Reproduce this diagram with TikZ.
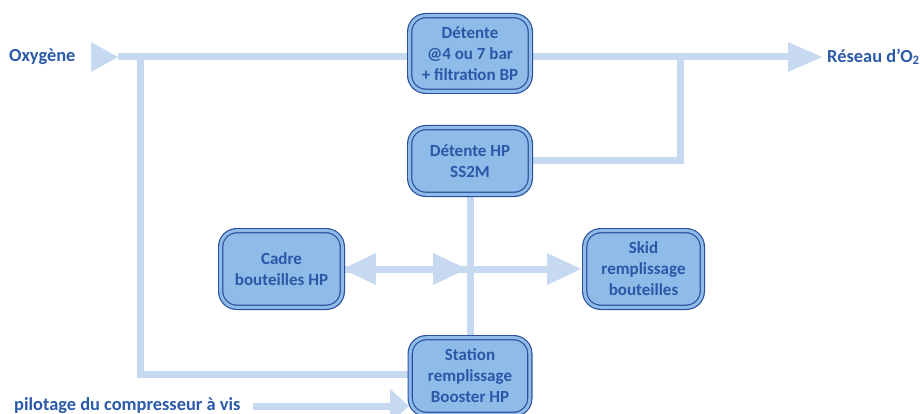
\documentclass[tikz,border=0pt]{standalone}
\usepackage{fontspec}
\setmainfont{Carlito}
\usetikzlibrary{calc}
\definecolor{pipec}{RGB}{198,217,241}
\definecolor{boxfill}{RGB}{142,187,232}
\definecolor{boxline}{RGB}{42,80,158}
\definecolor{boxtext}{RGB}{42,88,166}
\definecolor{labc}{RGB}{42,90,168}
\pgfdeclarelayer{bg}
\pgfsetlayers{bg,main}
\begin{document}
\begin{tikzpicture}[x=1pt,y=-1pt,
  box/.style={draw=boxline, line width=1.2pt, double=boxfill, double distance=3pt,
    fill=boxfill, rounded corners=16pt, inner sep=0pt, align=center, text=boxtext,
    font=\bfseries\fontsize{17}{21}\selectfont},
  lab/.style={inner sep=0pt, text=labc, font=\bfseries\fontsize{18.4}{22}\selectfont},
  pipe/.style={draw=pipec, line width=7pt},
  headfill/.style={fill=pipec}]
\useasboundingbox (0,0) rectangle (920,414);

\node[box, minimum width=120.6pt, minimum height=75.6pt] (det1) at (470,53.5) {Détente\\@4 ou 7 bar\\+ filtration BP};
\node[box, minimum width=120.6pt, minimum height=66.6pt] (det2) at (470,161) {Détente HP\\SS2M};
\node[box, minimum width=121.6pt, minimum height=76.6pt] (cadre) at (281.5,269) {Cadre\\bouteilles HP};
\node[box, minimum width=117.6pt, minimum height=76.6pt] (skid) at (643.5,269) {Skid\\remplissage\\bouteilles};
\node[box, minimum width=119.6pt, minimum height=76.6pt] (station) at (470,376) {Station\\remplissage\\Booster HP};

\node[lab, anchor=west] (oxy) at (9,57) {Oxygène};
\node[lab, anchor=west] (res) at (827,57) {Réseau d’O\textsubscript{2}};
\node[lab, anchor=base west] (pil) at (14,410) {pilotage du compresseur à vis};

\coordinate (oxin) at (118,57);
\coordinate (o2tip) at (822,57);
\coordinate (tee1) at (140.5,57);
\coordinate (tee2) at (680,57);
\coordinate (junc) at (470,269);
\coordinate (pilend) at (253,406);
\coordinate (piltip) at (409,406);

\begin{pgfonlayer}{bg}
  % main oxygen line
  \draw[pipe] (oxin) -- ($(o2tip)+(-34,0)$);
  \fill[headfill] (oxin) -- ++(-27,-15) -- ++(0,30) -- cycle;
  \fill[headfill] (o2tip) -- ++(-34,-15) -- ++(0,30) -- cycle;
  % branch to station
  \draw[pipe] (tee1) |- ($(station.west)+(0,-1.5)$);
  % HP expansion to network
  \draw[pipe] (det2.east) -| (tee2);
  % vertical HP line
  \draw[pipe] (det2.south) -- (station.north);
  % double arrow to cadre
  \draw[pipe] (cadre.east) -- (junc);
  \fill[headfill] (cadre.east) -- ++(33,-16) -- ++(0,32) -- cycle;
  \fill[headfill] ($(junc)+(-3,0)$) -- ++(-34,-16) -- ++(0,32) -- cycle;
  % arrow to skid
  \draw[pipe] (junc) -- ($(skid.west)+(-36,0)$);
  \fill[headfill] ($(skid.west)+(-3,0)$) -- ++(-34,-16) -- ++(0,32) -- cycle;
  % pilotage arrow
  \draw[pipe] (pilend) -- ($(piltip)+(-19,0)$);
  \fill[headfill] (piltip) -- ++(-19,-17) -- ++(0,34) -- cycle;
\end{pgfonlayer}
\end{tikzpicture}
\end{document}
